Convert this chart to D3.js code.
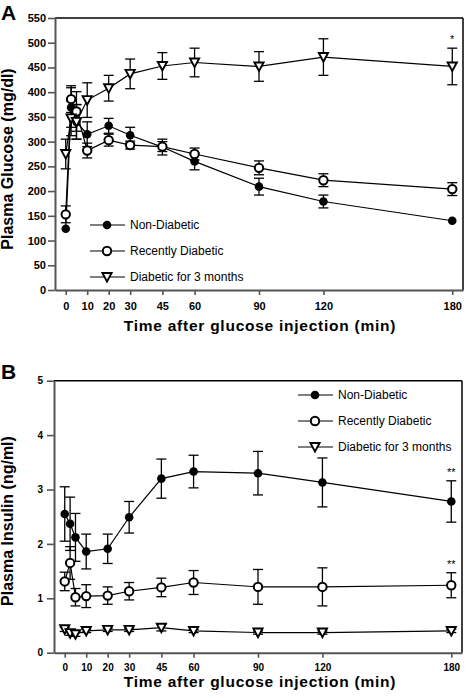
<!DOCTYPE html>
<html>
<head>
<meta charset="utf-8">
<script src="https://cdn.jsdelivr.net/npm/d3@7"></script>
<style>
  html, body { margin: 0; padding: 0; background: #fff; }
  svg { display: block; font-family: "Liberation Sans", Arial, sans-serif; }
</style>
</head>
<body>
<svg id="chart" width="466" height="698"></svg>
<script>
// ---------- data ----------
const times = [0, 2.5, 5, 10, 20, 30, 45, 60, 90, 120, 180];
const xTickValues = [0, 10, 20, 30, 45, 60, 90, 120, 180];
const seriesNames = ["Non-Diabetic", "Recently Diabetic", "Diabetic for 3 months"];

const glucoseYTicks = [0, 50, 100, 150, 200, 250, 300, 350, 400, 450, 500, 550];
const glucoseNonDiabetic    = [124, 369, 340, 315, 332, 313, 289, 260, 209, 179, 140];
const glucoseNonDiabeticErr = [0, 40, 35, 25, 15, 16, 16, 17, 17, 13, 0];
const glucoseRecent         = [153, 386, 361, 282, 303, 293, 290, 275, 247, 222, 204];
const glucoseRecentErr      = [17, 27, 40, 15, 12, 8, 10, 12, 14, 13, 13];
const glucose3m             = [275, 347, 340, 384, 408, 437, 453, 460, 452, 471, 452];
const glucose3mErr          = [30, 35, 35, 35, 26, 30, 27, 29, 30, 37, 37];

const insulinYTicks = [0, 1, 2, 3, 4, 5];
const insulinNonDiabetic    = [2.55, 2.37, 2.12, 1.86, 1.91, 2.49, 3.20, 3.33, 3.30, 3.13, 2.78];
const insulinNonDiabeticErr = [0.50, 0.49, 0.44, 0.32, 0.27, 0.29, 0.36, 0.30, 0.40, 0.45, 0.38];
const insulinRecent         = [1.31, 1.65, 1.02, 1.04, 1.05, 1.13, 1.20, 1.29, 1.21, 1.21, 1.24];
const insulinRecentErr      = [0.17, 0.30, 0.16, 0.21, 0.16, 0.16, 0.17, 0.22, 0.32, 0.35, 0.23];
const insulin3m             = [0.43, 0.36, 0.34, 0.40, 0.42, 0.42, 0.46, 0.40, 0.37, 0.37, 0.40];
const insulin3mErr          = [0.04, 0.04, 0.04, 0.03, 0.03, 0.03, 0.06, 0.03, 0.03, 0.03, 0.03];

// ---------- drawing ----------
const svg = d3.select("#chart");
const markerTypes = ["filled", "open", "triangle"];

function drawMarker(g, type, x, y) {
  if (type === "filled") {
    g.append("circle").attr("cx", x).attr("cy", y).attr("r", 4.3).attr("fill", "#000");
  } else if (type === "open") {
    g.append("circle").attr("cx", x).attr("cy", y).attr("r", 4.2)
      .attr("fill", "#fff").attr("stroke", "#000").attr("stroke-width", 2);
  } else {
    g.append("path").attr("transform", `translate(${x},${y})`)
      .attr("d", "M-4.6,-4 L4.6,-4 L0,4.6 Z")
      .attr("fill", "#fff").attr("stroke", "#000").attr("stroke-width", 1.9)
      .attr("stroke-linejoin", "miter");
  }
}

function panel(cfg) {
  const g = svg.append("g");
  const x = d3.scaleLinear().domain([-5, 185]).range([cfg.left, cfg.right]);
  const y = d3.scaleLinear().domain(cfg.yDomain).range([cfg.bottom, cfg.top]);

  // frame top & right
  g.append("line").attr("x1", cfg.left).attr("x2", cfg.right).attr("y1", cfg.top).attr("y2", cfg.top)
    .attr("stroke", "#000").attr("stroke-width", 1.5);
  g.append("line").attr("x1", cfg.right).attr("x2", cfg.right).attr("y1", cfg.top).attr("y2", cfg.bottom)
    .attr("stroke", "#000").attr("stroke-width", 1.5);

  // axes
  const yAxis = g.append("g").attr("transform", `translate(${cfg.left},0)`)
    .call(d3.axisLeft(y).tickValues(cfg.yTicks).tickFormat(d3.format("d"))
      .tickSize(7).tickPadding(cfg.yPad).tickSizeOuter(0));
  const xAxis = g.append("g").attr("transform", `translate(0,${cfg.bottom})`)
    .call(d3.axisBottom(x).tickValues(xTickValues).tickSize(5).tickPadding(cfg.xPad).tickSizeOuter(0));
  [yAxis, xAxis].forEach(a => {
    a.select(".domain").attr("stroke", "#555").attr("stroke-width", 2);
    a.selectAll(".tick line").attr("stroke", "#555").attr("stroke-width", 1.6);
    a.selectAll("text").attr("fill", "#000").attr("font-weight", "bold")
      .attr("font-size", cfg.tickFont).attr("font-family", "Liberation Sans, Arial, sans-serif");
  });

  // titles
  g.append("text").attr("transform", `translate(13,${cfg.yTitleY}) rotate(-90)`)
    .attr("text-anchor", "middle").attr("font-weight", "bold").attr("font-size", 16)
    .attr("fill", "#000").text(cfg.yTitle);
  g.append("text").attr("x", 260).attr("y", cfg.xTitleY)
    .attr("text-anchor", "middle").attr("font-weight", "bold").attr("font-size", 15.5)
    .attr("letter-spacing", 0.75).attr("fill", "#000")
    .text("Time after glucose injection (min)");
  g.append("text").attr("x", 1).attr("y", cfg.letterY)
    .attr("font-weight", "bold").attr("font-size", 21).attr("fill", "#000").text(cfg.letter);

  // series
  const line = d3.line().x(d => x(d.t)).y(d => y(d.v));
  cfg.series.forEach(s => {
    const pts = times.map((t, j) => ({ t, v: s.values[j] }));
    g.append("path").attr("d", line(pts)).attr("fill", "none")
      .attr("stroke", "#000").attr("stroke-width", 1.2);
  });
  cfg.series.forEach(s => {
    const eb = g.append("g").attr("stroke", "#000").attr("stroke-width", 1.3);
    times.forEach((t, j) => {
      if (s.err[j] <= 0) return;
      const cx = x(t), y1 = y(s.values[j] + s.err[j]), y2 = y(s.values[j] - s.err[j]);
      eb.append("line").attr("x1", cx).attr("x2", cx).attr("y1", y1).attr("y2", y2);
      eb.append("line").attr("x1", cx - 5).attr("x2", cx + 5).attr("y1", y1).attr("y2", y1);
      eb.append("line").attr("x1", cx - 5).attr("x2", cx + 5).attr("y1", y2).attr("y2", y2);
    });
  });
  cfg.series.forEach((s, i) => {
    const mg = g.append("g");
    times.forEach((t, j) => drawMarker(mg, markerTypes[i], x(t), y(s.values[j])));
  });

  // significance marks
  cfg.stars.forEach(st => {
    const s = cfg.series[st.series];
    const j = times.indexOf(st.t);
    g.append("text").attr("x", x(st.t)).attr("y", y(s.values[j] + s.err[j]) - 5)
      .attr("text-anchor", "middle").attr("font-size", 11).attr("fill", "#000").text(st.label);
  });

  // legend
  const lg = g.append("g");
  seriesNames.forEach((name, i) => {
    const ly = cfg.legendY + i * 26;
    lg.append("line").attr("x1", cfg.legendX).attr("x2", cfg.legendX + 35)
      .attr("y1", ly).attr("y2", ly).attr("stroke", "#000").attr("stroke-width", 1.2);
    drawMarker(lg, markerTypes[i], cfg.legendX + 17, ly);
    lg.append("text").attr("x", cfg.legendX + 40).attr("y", ly).attr("dy", "0.35em")
      .attr("font-size", 12).attr("fill", "#000").text(name);
  });
}

panel({
  left: 55, right: 463, top: 18, bottom: 290,
  yDomain: [0, 550], yTicks: glucoseYTicks, yPad: 2, xPad: 7, tickFont: 11,
  yTitle: "Plasma Glucose (mg/dl)", yTitleY: 159, xTitleY: 331,
  letter: "A", letterY: 20,
  series: [
    { values: glucoseNonDiabetic, err: glucoseNonDiabeticErr },
    { values: glucoseRecent, err: glucoseRecentErr },
    { values: glucose3m, err: glucose3mErr }
  ],
  stars: [{ series: 2, t: 180, label: "*" }],
  legendX: 90, legendY: 225
});

panel({
  left: 54, right: 462, top: 380.7, bottom: 652.7,
  yDomain: [0, 5], yTicks: insulinYTicks, yPad: 4, xPad: 6, tickFont: 10,
  yTitle: "Plasma Insulin (ng/ml)", yTitleY: 521, xTitleY: 687,
  letter: "B", letterY: 379,
  series: [
    { values: insulinNonDiabetic, err: insulinNonDiabeticErr },
    { values: insulinRecent, err: insulinRecentErr },
    { values: insulin3m, err: insulin3mErr }
  ],
  stars: [{ series: 0, t: 180, label: "**" }, { series: 1, t: 180, label: "**" }],
  legendX: 298, legendY: 395
});
</script>
</body>
</html>
